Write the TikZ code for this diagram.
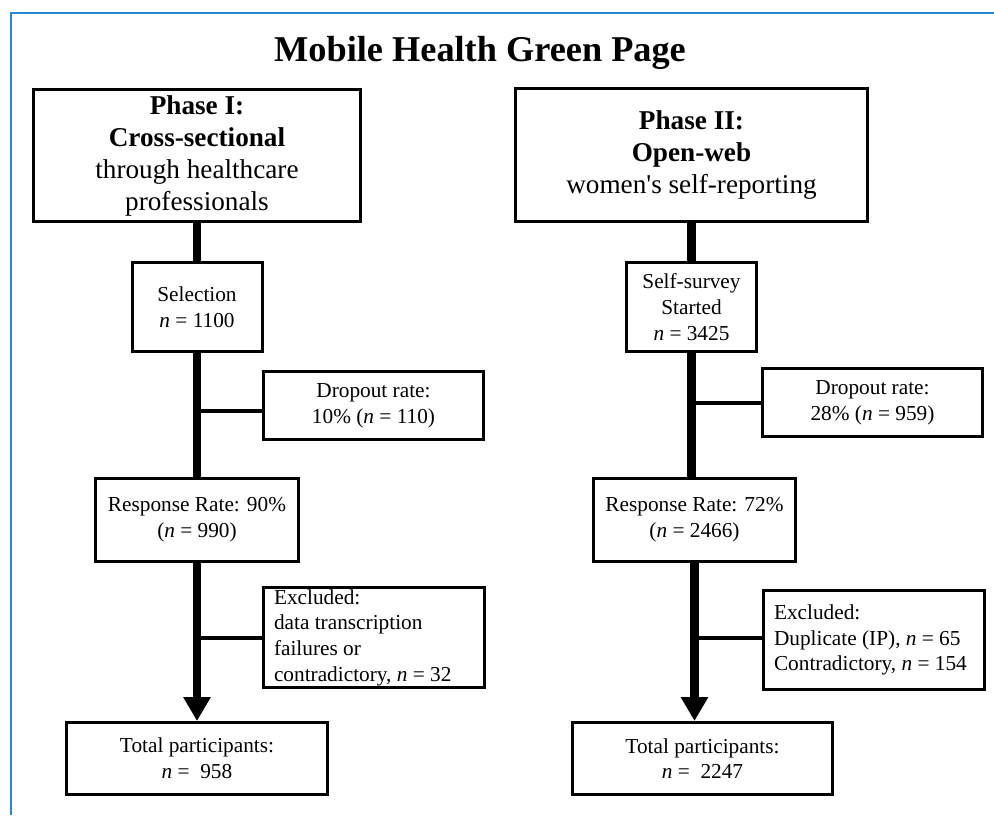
\documentclass[tikz,border=0pt]{standalone}
\usepackage{fontspec}
\setmainfont{Liberation Serif}
\usepackage{tikz}
\usetikzlibrary{shapes,arrows.meta,positioning,calc}
\definecolor{frameblue}{RGB}{38,139,204}

\begin{document}
\begin{tikzpicture}[x=1pt, y=-1pt,
    box/.style={rectangle, draw=black, line width=3pt, align=center, inner sep=2pt, font=\fontsize{21.3}{25.7}\selectfont},
    phase/.style={box, font=\fontsize{27.2}{32}\selectfont},
    side/.style={box, text width=200pt, align=flush left, inner xsep=10.5pt},
    stem/.style={line width=8.5pt},
    branch/.style={line width=4pt}]
    \useasboundingbox (0,0) rectangle (994,815);
    \draw [frameblue, line width=1.5pt] (11,815) -- (11,13) -- (994,13);
    \node (title) [anchor=base] at (480,61) {\fontsize{36.3}{43}\selectfont\bfseries Mobile Health Green Page};

    % Phase I
    \node (phase1) [phase, minimum width=327pt, minimum height=132pt] at (197,155.5) {\textbf{Phase I:}\\ \textbf{Cross-sectional}\\ through healthcare\\ professionals};
    \node (sel1) [box, below=38pt of phase1, minimum width=130pt, minimum height=89pt] {Selection\\ \textit{n} = 1100};
    \node (resp1) [box, below=124pt of sel1, minimum width=203pt, minimum height=83pt] {Response Rate: 90\%\\ (\textit{n} = 990)};
    \node (total1) [box, below=158pt of resp1, minimum width=261pt, minimum height=72pt] {Total participants:\\ \textit{n} = \ 958};
    \node (drop1) [box, minimum width=220pt, minimum height=68pt] at (373.5,405.5) {Dropout rate:\\ 10\% (\textit{n} = 110)};
    \node (excl1) [side, minimum height=100pt] at (374,637.5) {Excluded:\\ data transcription\\ failures or\\ contradictory, \textit{n} = 32};
    \draw [stem] (phase1.south) -- (sel1.north);
    \draw [stem] (sel1.south) -- (sel1.south |- resp1.north);
    \draw [stem, -{Triangle[width=26pt,length=24pt]}] (resp1.south) -- (resp1.south |- total1.north);
    \draw [branch] ([yshift=-5pt]drop1.west) -- ([yshift=-5pt]drop1.west -| sel1.south);
    \draw [branch] (excl1.west) -- (excl1.west -| resp1.south);

    % Phase II
    \node (phase2) [phase, minimum width=352pt, minimum height=133pt] at (691.5,155) {\textbf{Phase II:}\\ \textbf{Open-web}\\ women\textquotesingle s self-reporting};
    \node (survey) [box, below=38pt of phase2, minimum width=130pt, minimum height=89pt] {Self-survey\\ Started\\ \textit{n} = 3425};
    \node (resp2) [box, below=124pt of survey, xshift=3pt, minimum width=202pt, minimum height=83pt] {Response Rate: 72\%\\ (\textit{n} = 2466)};
    \node (total2) [box, below=158pt of resp2, xshift=8pt, minimum width=260pt, minimum height=72pt] {Total participants:\\ \textit{n} = \ 2247};
    \node (drop2) [box, minimum width=220pt, minimum height=68pt] at (872.5,402.5) {Dropout rate:\\ 28\% (\textit{n} = 959)};
    \node (excl2) [side, minimum height=99pt] at (874,640) {Excluded:\\ Duplicate (IP), \textit{n} = 65\\ Contradictory, \textit{n} = 154};
    \draw [stem] (phase2.south) -- (survey.north);
    \draw [stem] (survey.south) -- (survey.south |- resp2.north);
    \draw [stem, -{Triangle[width=26pt,length=24pt]}] (resp2.south) -- (resp2.south |- total2.north);
    \draw [branch] (drop2.west) -- (drop2.west -| survey.south);
    \draw [branch] ([yshift=2pt]excl2.west) -- ([yshift=2pt]excl2.west -| resp2.south);
\end{tikzpicture}
\end{document}
